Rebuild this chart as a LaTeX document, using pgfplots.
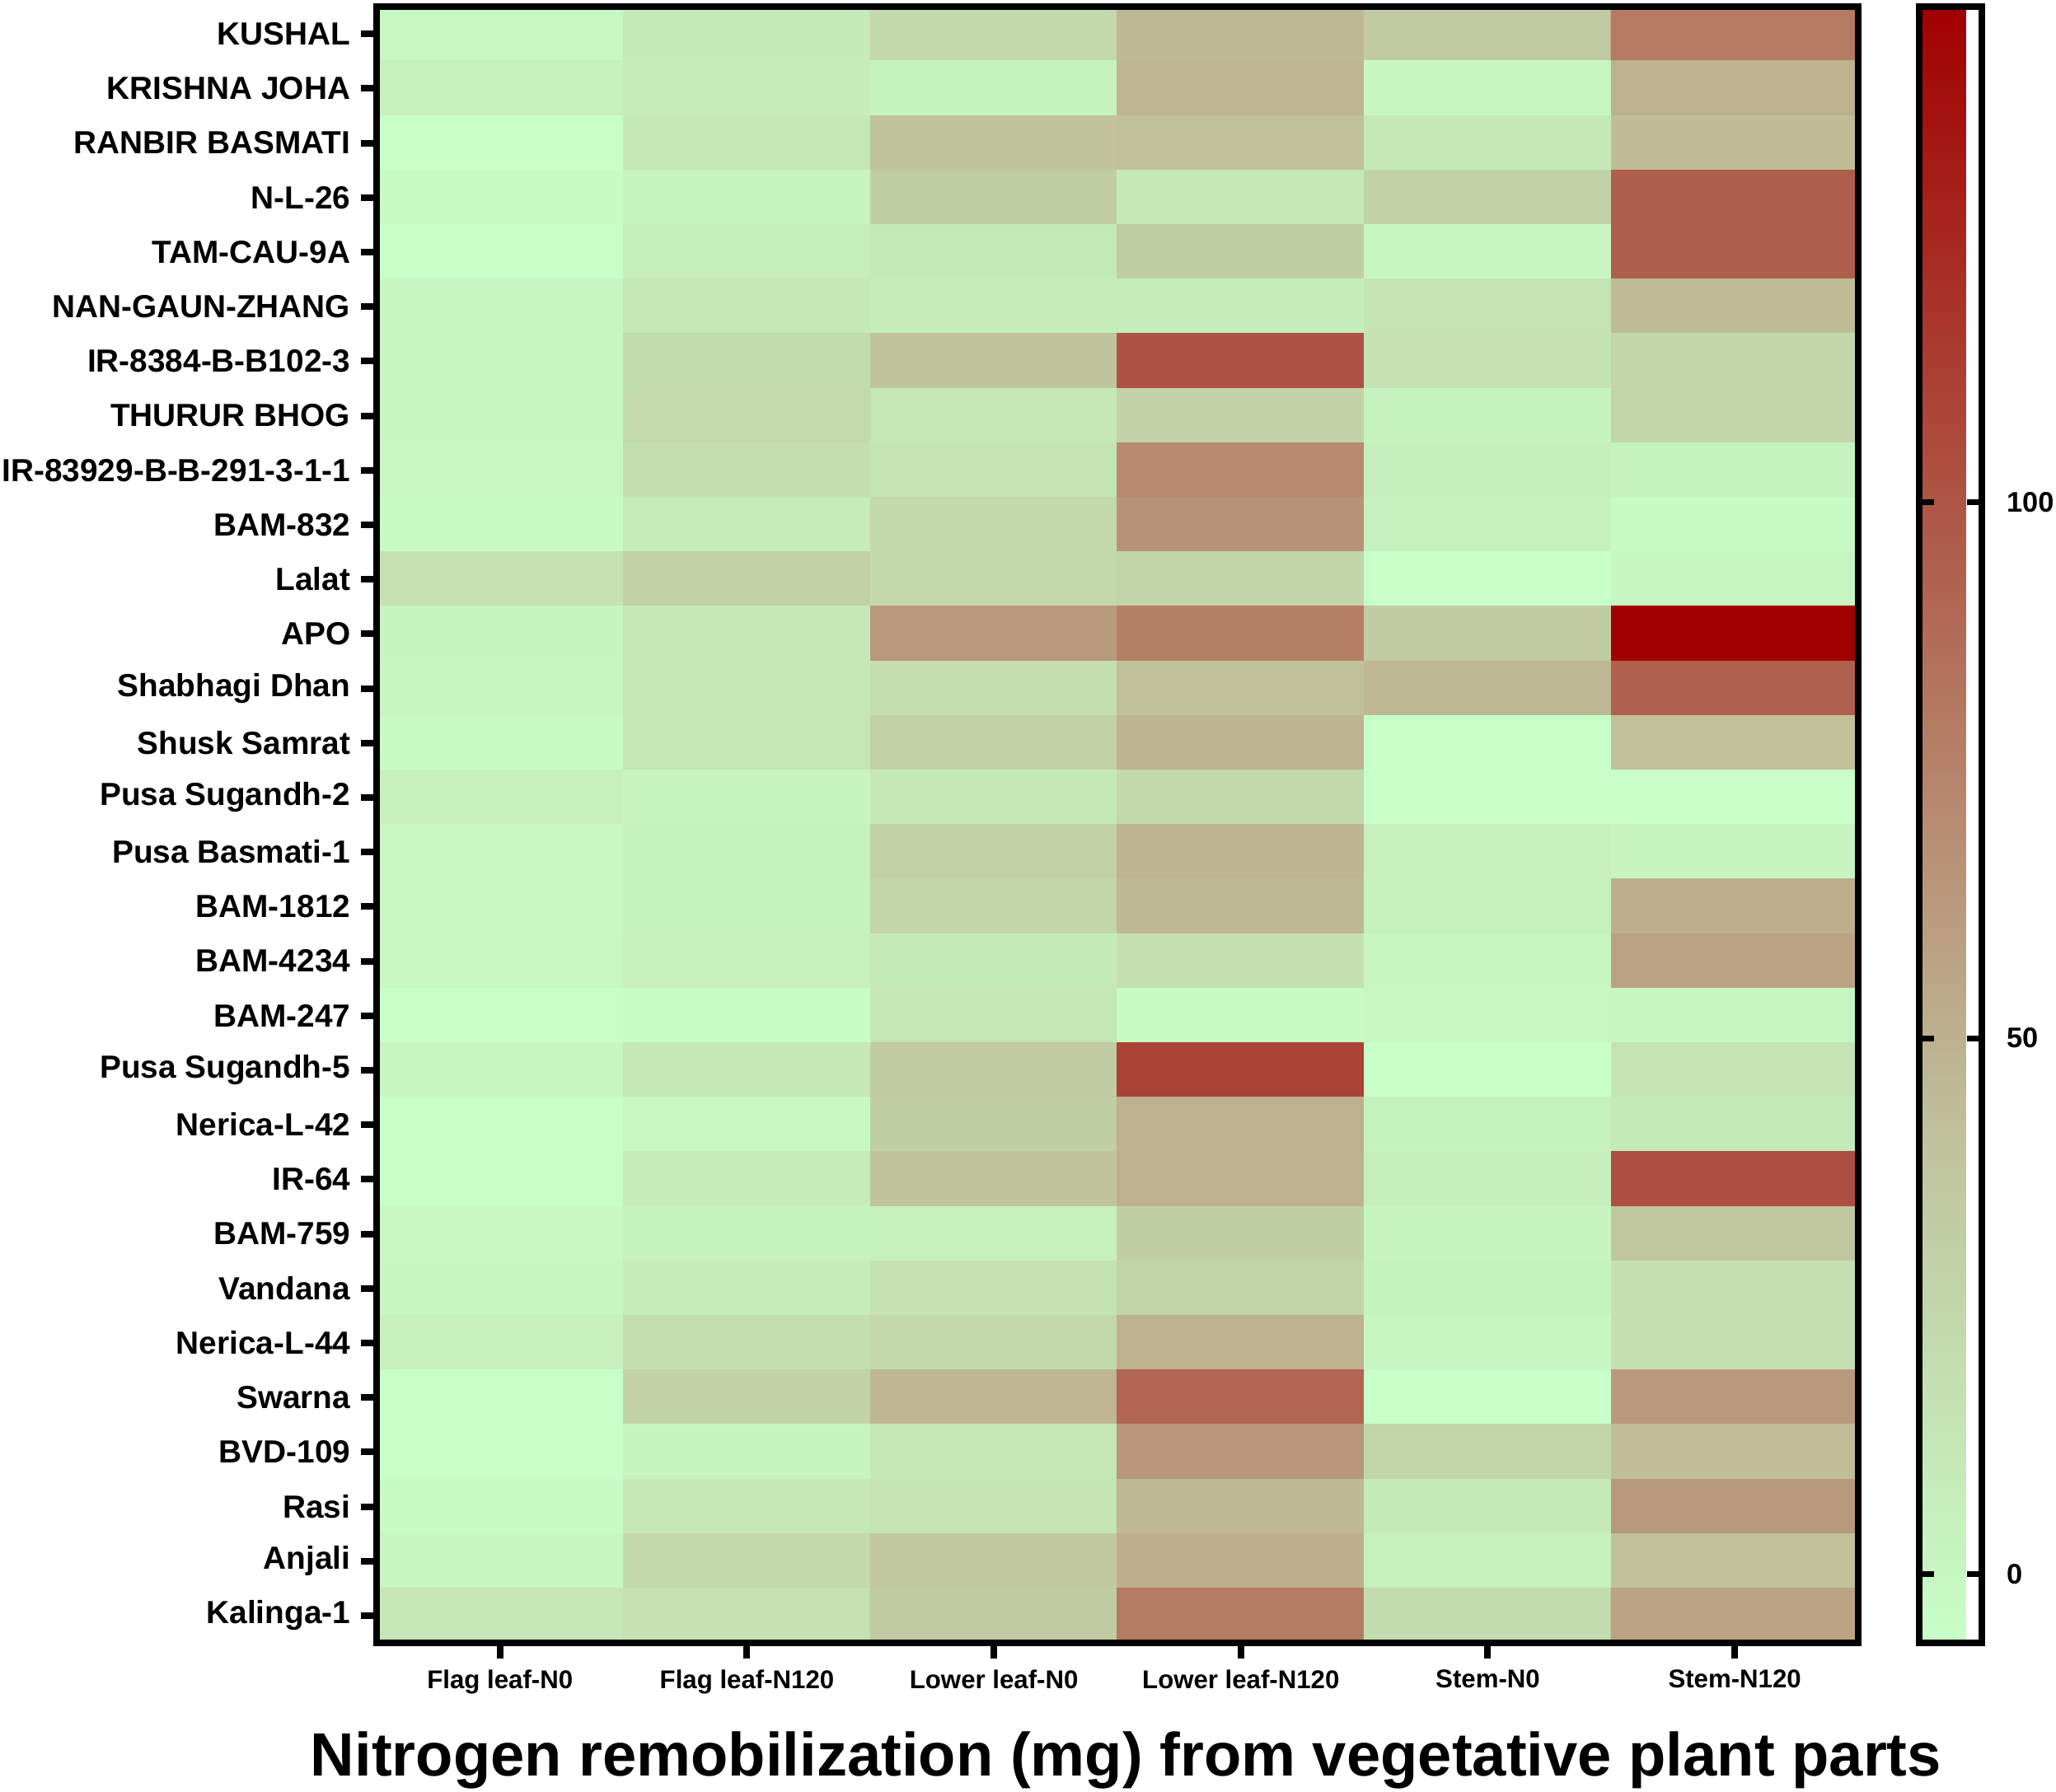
\documentclass[border=0pt]{standalone}
\usepackage{pgfplots}
\pgfplotsset{compat=1.18}
\usepackage{pgfplotstable}
\usepackage{fontspec}
\setmainfont{Liberation Sans}

% rows: 0 = KUSHAL (top) ... 29 = Kalinga-1 (bottom)
% cols: 0 Flag leaf-N0, 1 Flag leaf-N120, 2 Lower leaf-N0, 3 Lower leaf-N120, 4 Stem-N0, 5 Stem-N120
\pgfplotstableread{
x y v
0 0 -1
1 0 9
2 0 24
3 0 46
4 0 34
5 0 80
0 1 5
1 1 8
2 1 4
3 1 47
4 1 0.5
5 1 50
0 2 -6.4
1 2 11
2 2 40.5
3 2 41.6
4 2 11
5 2 44
0 3 -2.5
1 3 2
2 3 31.5
3 3 11
4 3 28.5
5 3 95
0 4 -6.4
1 4 6.8
2 4 10
3 4 31.5
4 4 0.6
5 4 95
0 5 0.6
1 5 11
2 5 8
3 5 8
4 5 14.5
5 5 44
0 6 0.6
1 6 21
2 6 39
3 6 101
4 6 16
5 6 25.5
0 7 0.6
1 7 22
2 7 13
3 7 28.5
4 7 3.7
5 7 25.5
0 8 -1
1 8 19
2 8 14.5
3 8 71
4 8 6.8
5 8 3.7
0 9 -2.5
1 9 8
2 9 24
3 9 66.5
4 9 5
5 9 -2.5
0 10 16
1 10 30
2 10 24
3 10 27
4 10 -6.4
5 10 0.6
0 11 2
1 11 11
2 11 63
3 11 77
4 11 33
5 11 146.2
0 12 0.6
1 12 13
2 12 19
3 12 41.6
4 12 46
5 12 93.5
0 13 -2.5
1 13 13
2 13 30
3 13 48
4 13 -6.4
5 13 41.6
0 14 5
1 14 2
2 14 11
3 14 24
4 14 -6.4
5 14 -6.4
0 15 -1
1 15 3.7
2 15 30
3 15 48
4 15 5
5 15 2
0 16 -1
1 16 3.7
2 16 25.5
3 16 46
4 16 5
5 16 51
0 17 -1
1 17 5
2 17 10
3 17 17.6
4 17 0.6
5 17 58
0 18 -6.4
1 18 -4
2 18 13
3 18 -2.5
4 18 -1
5 18 0.6
0 19 0.6
1 19 11
2 19 33
3 19 110
4 19 -6.4
5 19 14.5
0 20 -5.6
1 20 -1
2 20 31.5
3 20 50
4 20 3.7
5 20 10
0 21 -6.4
1 21 8
2 21 39
3 21 50
4 21 6.8
5 21 103
0 22 -1
1 22 3.7
2 22 5
3 22 31.5
4 22 2
5 22 37.5
0 23 0.6
1 23 8
2 23 16
3 23 27
4 23 3.7
5 23 17.6
0 24 5
1 24 19
2 24 24
3 24 50
4 24 0.6
5 24 17.6
0 25 -5.6
1 25 28.5
2 25 47
3 25 91
4 25 -6.4
5 25 63
0 26 -5.6
1 26 2
2 26 13
3 26 64
4 26 25.5
5 26 42.7
0 27 -2.5
1 27 13
2 27 14.5
3 27 46
4 27 10
5 27 63
0 28 0.6
1 28 24
2 28 36
3 28 51
4 28 5
5 28 41.6
0 29 13
1 29 16
2 29 34
3 29 79
4 29 21
5 29 58
}\heat

\begin{document}
\begin{tikzpicture}
\begin{axis}[
    name=main,
    scale only axis,
    width=449.5bp, height=496.5bp,
    xmin=-0.5, xmax=5.5, ymin=-0.5, ymax=29.5,
    y dir=reverse,
    axis on top,
    axis line style={line width=2bp},
    xtick={0,...,5}, ytick={0,...,29},
    xticklabels={Flag leaf-N0, Flag leaf-N120, Lower leaf-N0, Lower leaf-N120, Stem-N0, Stem-N120},
    yticklabels={KUSHAL, KRISHNA JOHA, RANBIR BASMATI, N-L-26, TAM-CAU-9A, NAN-GAUN-ZHANG,
        IR-8384-B-B102-3, THURUR BHOG, IR-83929-B-B-291-3-1-1, BAM-832, Lalat, APO,
        Shabhagi Dhan, Shusk Samrat, Pusa Sugandh-2, Pusa Basmati-1, BAM-1812, BAM-4234,
        BAM-247, Pusa Sugandh-5, Nerica-L-42, IR-64, BAM-759, Vandana, Nerica-L-44,
        Swarna, BVD-109, Rasi, Anjali, Kalinga-1},
    xtick pos=left, ytick pos=left,
    tick align=outside,
    major tick length=4.75bp,
    major tick style={line width=2bp, black},
    xticklabel style={font=\fontsize{7.8bp}{9bp}\selectfont\bfseries},
    yticklabel style={font=\fontsize{9.7bp}{12bp}\selectfont\bfseries, inner xsep=0pt, xshift=-3bp},
    xlabel={Nitrogen remobilization (mg) from vegetative plant parts},
    xlabel style={font=\fontsize{18.55bp}{22bp}\selectfont\bfseries,
        at={(axis description cs:0.5,0)}, anchor=base, yshift=-40.25bp, xshift=2.6bp},
    colormap={heat}{rgb255(0)=(200,255,200) rgb255(464)=(192,195,157) rgb255(1526)=(160,0,0)},
    point meta min=-6.4, point meta max=146.2,
    colorbar,
    colorbar style={
        at={(parent axis.north east)}, anchor=north west, xshift=10bp,
        width=19bp,
        axis on top=false,
        axis line style={line width=2bp},
        ytick={0,50,100},
        yticklabel pos=right,
        major tick length=0pt,
        yticklabel style={font=\fontsize{8.6bp}{11bp}\selectfont\bfseries, xshift=4bp,
            /pgf/number format/assume math mode=true},
        % frame and inward ticks drawn over the shading (ticks at 0, 50, 100)
        after end axis/.code={
            \draw[line width=2bp] (rel axis cs:0,0) rectangle (rel axis cs:1,1);
            \draw[line width=1.75bp] (rel axis cs:0,0.04194) -- ++(4.4bp,0);
            \draw[line width=1.75bp] (rel axis cs:1,0.04194) -- ++(-4.4bp,0);
            \draw[line width=1.75bp] (rel axis cs:0,0.36959) -- ++(4.4bp,0);
            \draw[line width=1.75bp] (rel axis cs:1,0.36959) -- ++(-4.4bp,0);
            \draw[line width=1.75bp] (rel axis cs:0,0.69725) -- ++(4.4bp,0);
            \draw[line width=1.75bp] (rel axis cs:1,0.69725) -- ++(-4.4bp,0);
        },
    },
]
\addplot[matrix plot*, mesh/cols=6, point meta=explicit] table[x=x, y=y, meta=v] {\heat};
\end{axis}
\pgfresetboundingbox
\useasboundingbox ([xshift=-114.25bp, yshift=-45.25bp]main.south west)
    rectangle ([xshift=60bp, yshift=2bp]main.north east);
\end{tikzpicture}
\end{document}
